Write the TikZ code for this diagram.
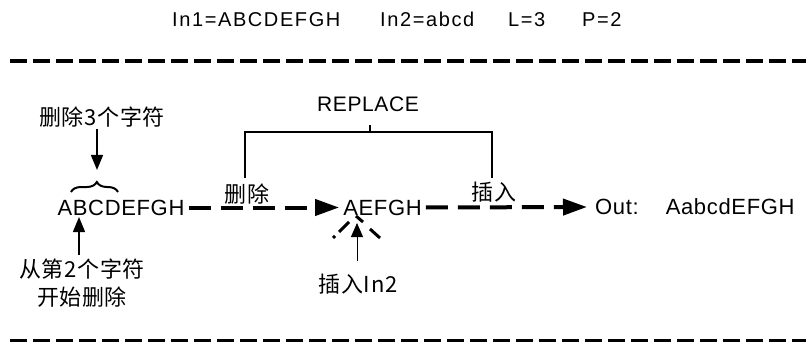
\documentclass[tikz,border=0pt]{standalone}
\usepackage{fontspec}
\setmainfont{Liberation Sans}
\newfontfamily\cjk[LetterSpace=3]{Noto Sans CJK SC}
\newfontfamily\latw[LetterSpace=8]{Liberation Sans}
\newfontfamily\latm[LetterSpace=3]{Liberation Sans}
\usetikzlibrary{arrows.meta,decorations.pathreplacing}
\tikzset{
  toptext/.style={inner sep=0pt,anchor=base west,font=\latw\fontsize{20}{24}\selectfont},
  mainword/.style={inner xsep=4pt,inner ysep=0pt,font=\latm\fontsize{22}{26}\selectfont},
  cjklabel/.style={inner sep=0pt,align=center,font=\cjk\fontsize{22}{28}\selectfont},
  sepline/.style={line width=3.3pt,dash pattern=on 17pt off 6pt},
  dasharrow/.style={line width=4pt,dash pattern=on 22pt off 10pt,-{Triangle[length=24pt,width=16pt]}},
  thinarrow/.style={line width=1.5pt,-{Triangle[length=15pt,width=12pt]}},
  wedgearrow/.style={line width=1pt,-{Triangle[length=14pt,width=12pt]}},
  wedge/.style={line width=3pt},
  bracket/.style={line width=2.5pt}
}
\begin{document}
\begin{tikzpicture}[x=1pt,y=-1pt]
\useasboundingbox (0,0) rectangle (806,342);
% header
\node[toptext] (h1) at (172,27) {In1=ABCDEFGH};
\node[toptext] (h2) at (380,27) {In2=abcd};
\node[toptext] (h3) at (508,27) {L=3};
\node[toptext] (h4) at (582,27) {P=2};
\draw[sepline] (10,61) -- (806,61);
\draw[sepline] (10,341) -- (806,341);
% left word
\node[mainword] (abc) at (121,207.5) {ABCDEFGH};
\node[cjklabel] (del3) at (102,117) {删除3个字符};
\node[cjklabel] (start) at (82,283.5) {从第2个字符\\开始删除};
\coordinate (bl) at (71,192);
\coordinate (br) at (118,192);
\draw[line width=2pt,decorate,decoration={brace,amplitude=10pt,aspect=0.55}] (bl) -- (br);
\coordinate (btip) at (97,170);
\draw[thinarrow] ([yshift=-2pt]del3.south -| btip) -- (btip);
\coordinate (bpt) at (79,217);
\draw[thinarrow] ([yshift=4pt]start.north -| bpt) -- (bpt);
% middle word
\node[mainword] (aefgh) at (382.5,207.5) {AEFGH};
\draw[dasharrow] (abc.east) -- (aefgh.west);
\node[cjklabel] (del) at (247,194) {删除};
% output
\node[mainword,anchor=west,inner xsep=0pt] (out) at (595,207) {Out:\hspace{27pt}AabcdEFGH};
\draw[dasharrow] (aefgh.east) -- ([xshift=-8pt]out.west);
\node[cjklabel] (ins) at (494,192) {插入};
% replace bracket
\node[inner sep=0pt,anchor=base,font=\latm\fontsize{21}{25}\selectfont] (rep) at (368,112) {REPLACE};
\coordinate (top) at (370,132);
\draw[bracket] (245,178) |- (top) -| (492,178);
\draw[bracket] (top) -- ([yshift=-13pt]rep.south -| top);
% insertion wedge (dashed)
\draw[wedge] (333,238) -- (335,236);
\draw[wedge] (339,232) -- (349,222);
\draw[wedge] (356,216) -- (363,222);
\draw[wedge] (370,229) -- (380,238);
\node[cjklabel] (ins2) at (358,284) {插入In2};
\coordinate (wtip) at (357,223);
\draw[wedgearrow] ([yshift=13pt]ins2.north -| wtip) -- (wtip);
\end{tikzpicture}
\end{document}
